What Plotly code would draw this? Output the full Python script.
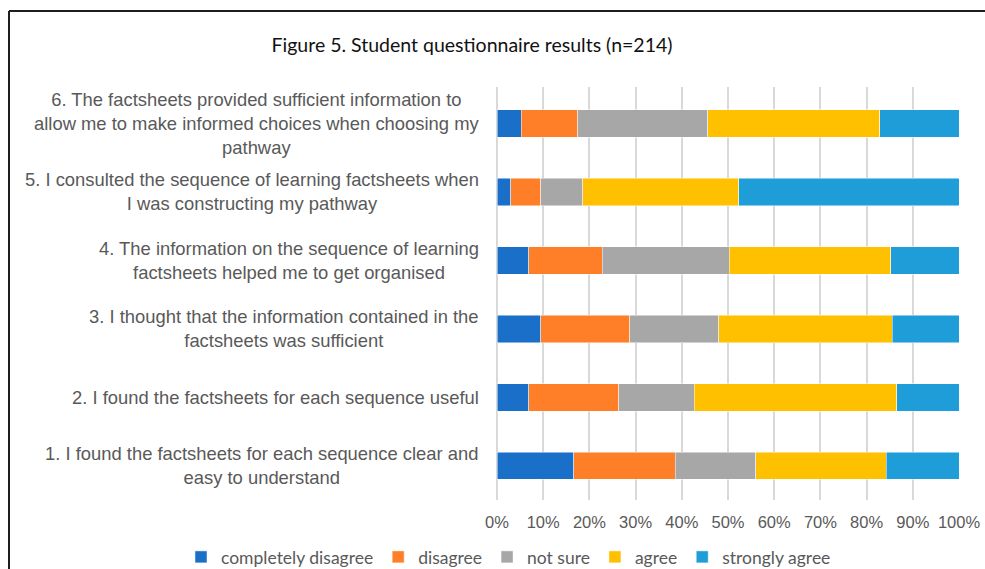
import plotly.graph_objects as go

categories = [
    "1. I found the factsheets for each sequence clear and<br>easy to understand",
    "2. I found the factsheets for each sequence useful",
    "3. I thought that the information contained in the<br>factsheets was sufficient",
    "4. The information on the sequence of learning<br>factsheets helped me to get organised",
    "5. I consulted the sequence of learning factsheets when<br>I was constructing my pathway",
    "6. The factsheets provided sufficient information to<br>allow me to make informed choices when choosing my<br>pathway",
]

completely_disagree = [16.6, 6.9, 9.5, 6.9, 3.0, 5.3]
disagree = [22.0, 19.5, 19.2, 15.9, 6.5, 12.2]
not_sure = [17.4, 16.3, 19.3, 27.5, 9.1, 28.1]
agree = [28.2, 43.8, 37.6, 34.9, 33.7, 37.2]
strongly_agree = [15.8, 13.5, 14.4, 14.8, 47.7, 17.2]

series_names = ["completely disagree", "disagree", "not sure", "agree", "strongly agree"]
series_values = [completely_disagree, disagree, not_sure, agree, strongly_agree]
series_colors = ["#1a70c8", "#fe7f27", "#a7a7a7", "#ffc000", "#1e9dd8"]

x_ticks = list(range(0, 101, 10))
x_tick_labels = [f"{v}%" for v in x_ticks]

title_text = "Figure 5. Student questionnaire results (n=214)"

W, H = 985, 569
L, R, T, B = 497, 959, 87, 500  # plot area (px)

fig = go.Figure()
for name, vals, col in zip(series_names, series_values, series_colors):
    fig.add_trace(go.Bar(
        y=categories, x=vals, name=name, orientation="h",
        marker=dict(color=col, line=dict(color="rgba(255,255,255,0.6)", width=0.8)),
    ))

pw = R - L
ph = B - T
for cat in categories:
    fig.add_annotation(
        x=-16 / pw, xref="paper", y=cat, yref="y",
        text=cat, showarrow=False, xanchor="right", yanchor="middle",
        align="center",
        font=dict(family="Liberation Sans, Arial", size=18.4, color="#595959"),
    )

# frame lines (top and left)
fx = 9
fy = 11
fig.add_shape(type="line", xref="paper", yref="paper",
              x0=(fx - L) / pw, x1=(W + 5 - L) / pw,
              y0=(B - fy) / ph, y1=(B - fy) / ph,
              line=dict(color="#1e1e1e", width=2))
fig.add_shape(type="line", xref="paper", yref="paper",
              x0=(fx - L) / pw, x1=(fx - L) / pw,
              y0=(B - fy) / ph, y1=(B - H - 5) / ph,
              line=dict(color="#1e1e1e", width=2))

fig.update_layout(
    width=W, height=H,
    barmode="stack",
    bargap=0.6,
    plot_bgcolor="white", paper_bgcolor="white",
    margin=dict(l=L, r=W - R, t=T, b=H - B, pad=0, autoexpand=False),
    title=dict(text=title_text, x=472 / W, xref="container", xanchor="center",
               y=1 - 45 / H, yref="container", yanchor="middle",
               font=dict(family="Lato", size=19.5, color="#111111")),
    xaxis=dict(range=[0, 100], tickvals=x_ticks, ticktext=x_tick_labels,
               showgrid=True, gridcolor="#d9d9d9", gridwidth=1.5,
               zeroline=True, zerolinecolor="#d9d9d9", zerolinewidth=1.5,
               showline=False, ticks="outside", ticklen=7,
               tickcolor="rgba(0,0,0,0)",
               tickfont=dict(family="Liberation Sans, Arial", size=16.5, color="#595959"),
               fixedrange=True),
    yaxis=dict(categoryorder="array", categoryarray=categories,
               showticklabels=False, showgrid=False, zeroline=False, showline=False,
               fixedrange=True),
    legend=dict(orientation="h", x=(181 - L) / pw, xanchor="left",
                y=(B - 557) / ph, yanchor="middle",
                font=dict(family="Lato", size=17.5, color="#595959"),
                itemwidth=30, traceorder="normal", tracegroupgap=0),
    showlegend=True,
)

fig.write_html("out.html",
               config={"displayModeBar": False},
               post_script="document.body.style.margin='0';document.body.style.overflow='hidden';")
